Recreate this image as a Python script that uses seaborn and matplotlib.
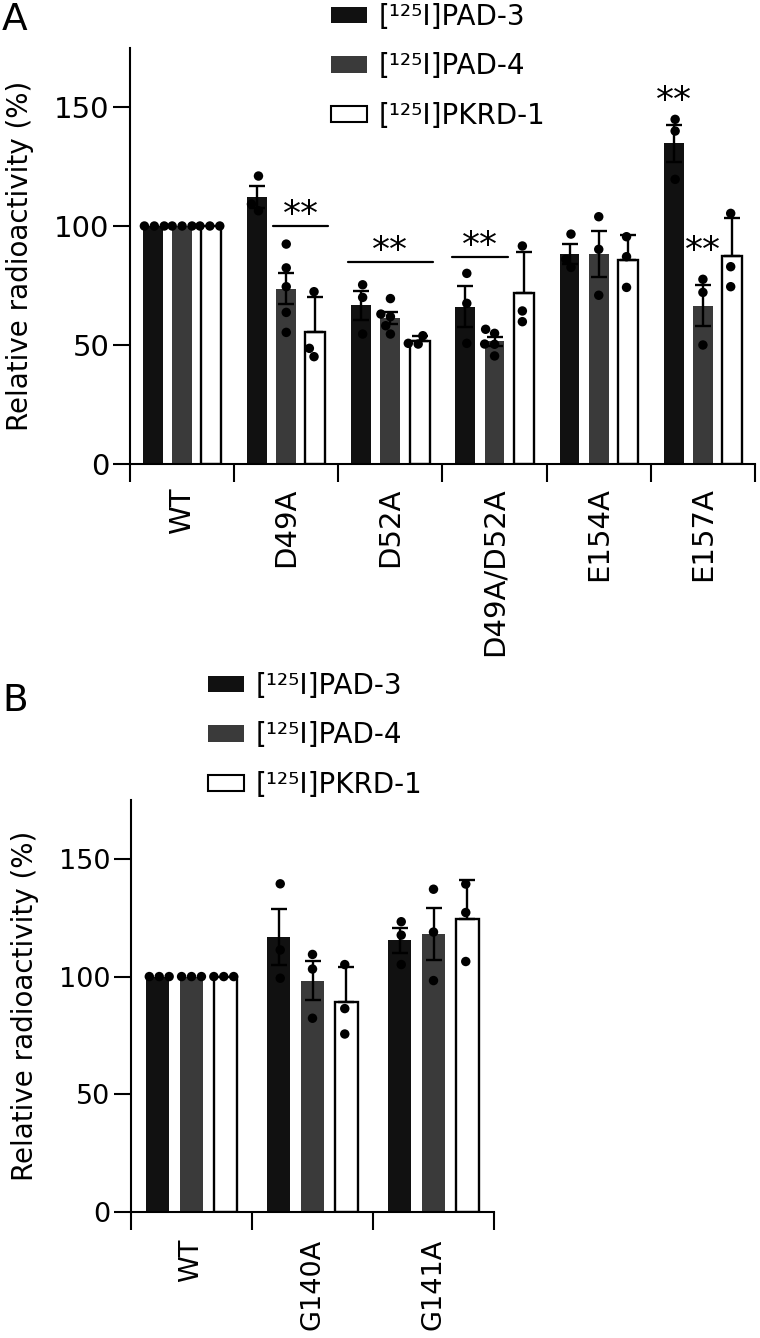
import numpy as np
import pandas as pd
import matplotlib
matplotlib.use("Agg")
import matplotlib.pyplot as plt
from matplotlib.patches import Patch
import seaborn as sns

# Panel A data (individual replicates, % of WT)
mutants_a = ["WT", "D49A", "D52A", "D49A/D52A", "E154A", "E157A"]
pad3_a = [[100, 100, 100], [121.0, 109.2, 106.4], [75.3, 70.0, 54.6],
          [80.1, 67.5, 50.7], [96.6, 86.0, 82.6], [144.8, 139.9, 119.6]]
pad4_a = [[100, 100, 100], [92.4, 82.4, 74.5, 63.7, 55.3], [69.5, 63.0, 61.9, 58.1, 54.6],
          [56.6, 54.9, 50.4, 50.3, 45.4], [103.9, 90.2, 70.9], [77.6, 72.1, 50.0]]
pkrd_a = [[100, 100, 100], [72.4, 48.6, 45.1], [53.9, 50.7, 50.4],
          [91.6, 64.3, 59.8], [95.5, 87.1, 74.2], [105.3, 82.9, 74.5]]

# Panel B data
mutants_b = ["WT", "G140A", "G141A"]
pad3_b = [[100, 100, 100], [139.4, 111.3, 99.3], [123.3, 117.6, 105.1]]
pad4_b = [[100, 100, 100], [109.4, 103.2, 82.3], [137.1, 118.9, 98.3]]
pkrd_b = [[100, 100, 100], [105.1, 86.4, 75.6], [139.3, 127.2, 106.4]]

probes = ["PAD-3", "PAD-4", "PKRD-1"]
labels = ["[¹²⁵I]PAD-3", "[¹²⁵I]PAD-4", "[¹²⁵I]PKRD-1"]
colors = {"PAD-3": "#111111", "PAD-4": "#3a3a3a", "PKRD-1": "white"}

# significance marks: (mutant, first probe, last probe, line y)
sig_lines_a = [("D49A", "PAD-4", "PKRD-1", 100), ("D52A", "PAD-3", "PKRD-1", 84.7),
               ("D49A/D52A", "PAD-3", "PAD-4", 86.8)]
sig_single_a = [("E157A", "PAD-3", 156), ("E157A", "PAD-4", 93)]


def to_df(mutants, series):
    rows = []
    for probe, vals in zip(probes, series):
        for m, reps in zip(mutants, vals):
            for v in reps:
                rows.append((m, probe, v))
    return pd.DataFrame(rows, columns=["mutant", "probe", "value"])


def draw_panel(ax, df, mutants, tick_fs, xpad):
    sns.barplot(data=df, x="mutant", y="value", hue="probe", order=mutants,
                hue_order=probes, palette=colors, saturation=1, errorbar=None,
                width=0.84, gap=0.32, linewidth=0, ax=ax)
    bar_pos = {}
    for probe, cont in zip(probes, ax.containers):
        for m, p in zip(mutants, cont.patches):
            if probe == "PKRD-1":
                p.set_edgecolor("black")
                p.set_linewidth(1.7)
            x = p.get_x() + p.get_width() / 2
            bar_pos[(m, probe)] = (x, p.get_width())
            vals = df[(df.mutant == m) & (df.probe == probe)]["value"].to_numpy()
            if probe == "PKRD-1":
                # SD, drawn upwards only
                err = vals.std(ddof=1)
                yerr = [[0], [err]]
            else:
                # SEM
                err = vals.std(ddof=1) / np.sqrt(len(vals))
                yerr = [[err], [err]]
            if err > 0:
                ax.errorbar(x, vals.mean(), yerr=yerr, fmt="none", ecolor="black",
                            elinewidth=1.7, capsize=6, capthick=1.7, zorder=4)
    sns.swarmplot(data=df, x="mutant", y="value", hue="probe", order=mutants,
                  hue_order=probes, palette=["black"] * 3, dodge=True, size=6.8,
                  legend=False, ax=ax, zorder=5)
    n = len(mutants)
    ax.set_xlim(-0.5, n - 0.5)
    ax.set_ylim(0, 175)
    ax.set_yticks([0, 50, 100, 150])
    ax.set_xticks(np.arange(n + 1) - 0.5)
    ax.set_xticklabels([])
    ax.set_xticks(np.arange(n), minor=True)
    ax.set_xticklabels(mutants, minor=True, rotation=90)
    ax.tick_params(axis="x", which="major", length=13, width=1.5)
    ax.tick_params(axis="x", which="minor", length=0, pad=xpad, labelsize=tick_fs)
    ax.tick_params(axis="y", length=12, width=1.5, labelsize=tick_fs, pad=3)
    ax.set_xlabel("")
    ax.set_ylabel("Relative radioactivity (%)", fontsize=20, labelpad=14)
    sns.despine(ax=ax)
    for s in ["left", "bottom"]:
        ax.spines[s].set_linewidth(1.5)
    return bar_pos


def add_legend(ax, fig, x, y):
    handles = [Patch(facecolor=colors[p], edgecolor="black" if p == "PKRD-1" else colors[p],
                     linewidth=1.5 if p == "PKRD-1" else 0) for p in probes]
    ax.legend(handles, labels, loc="upper left", bbox_to_anchor=(x, y),
              bbox_transform=fig.transFigure, frameon=False, fontsize=20,
              handlelength=1.3, handleheight=0.54, handletextpad=0.4,
              labelspacing=0.77, borderpad=0, borderaxespad=0)


def stars(ax, x, y, fs=26):
    ax.annotate("**", xy=(x, y), xytext=(0, -0.5 * fs), textcoords="offset points",
                ha="center", va="baseline", fontsize=fs)


sns.set_style("ticks")
plt.rcParams["font.family"] = ["DejaVu Sans"]
plt.rcParams.update({"text.color": "black", "axes.labelcolor": "black",
                     "xtick.color": "black", "ytick.color": "black",
                     "axes.edgecolor": "black"})

W, H = 760, 1338
fig = plt.figure(figsize=(W / 100, H / 100), dpi=100)
ax_a = fig.add_axes([130 / W, 1 - 464 / H, 625 / W, 416.5 / H])
ax_b = fig.add_axes([131 / W, 1 - 1212 / H, 363 / W, 412 / H])

df_a = to_df(mutants_a, [pad3_a, pad4_a, pkrd_a])
df_b = to_df(mutants_b, [pad3_b, pad4_b, pkrd_b])

pos_a = draw_panel(ax_a, df_a, mutants_a, 21, 17)
draw_panel(ax_b, df_b, mutants_b, 19.5, 19)

for m, p0, p1, y in sig_lines_a:
    x0 = pos_a[(m, p0)][0] - pos_a[(m, p0)][1] / 2 - 0.03
    x1 = pos_a[(m, p1)][0] + pos_a[(m, p1)][1] / 2 + 0.03
    ax_a.plot([x0, x1], [y, y], color="black", lw=1.6)
    stars(ax_a, (x0 + x1) / 2, y + 8)
for m, p, y in sig_single_a:
    stars(ax_a, pos_a[(m, p)][0], y)

add_legend(ax_a, fig, 331 / W, 1 - 3 / H)
add_legend(ax_b, fig, 208 / W, 1 - 672 / H)

fig.text(2 / W, 1 - 2 / H, "A", fontsize=27, va="top", ha="left")
fig.text(2 / W, 1 - 683 / H, "B", fontsize=27, va="top", ha="left")

fig.savefig("out.png", dpi=100)
